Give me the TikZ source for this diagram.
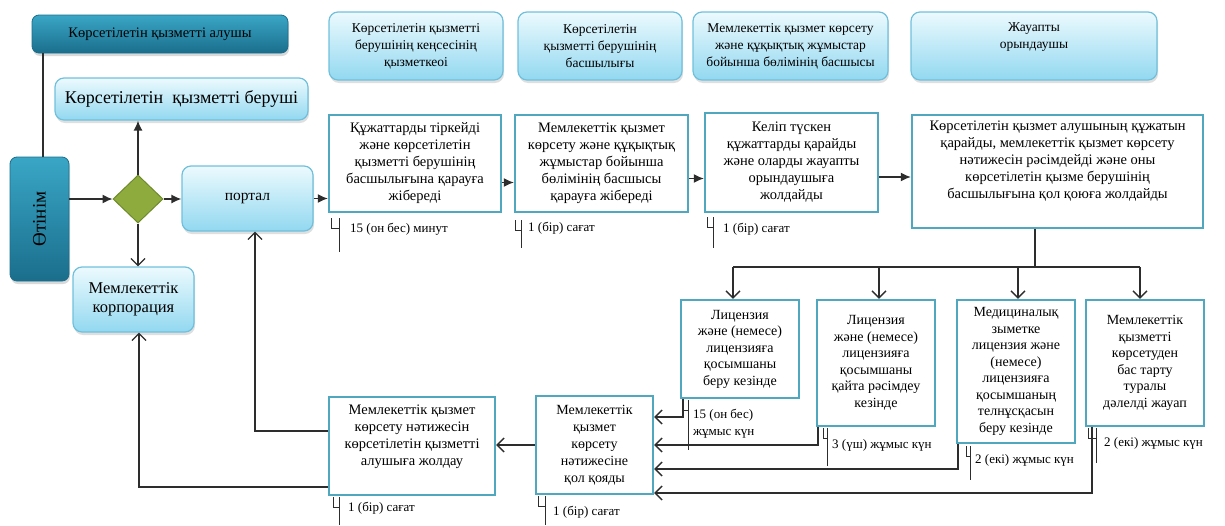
\documentclass[tikz,border=0pt]{standalone}
\usepackage{fontspec}
\setmainfont{Liberation Serif}
\usetikzlibrary{arrows.meta,shapes.geometric,shadows}

\definecolor{tealtop}{RGB}{58,166,198}
\definecolor{tealbot}{RGB}{26,110,140}
\definecolor{skytop}{RGB}{236,250,254}
\definecolor{skybot}{RGB}{146,216,240}
\definecolor{skyline}{RGB}{112,192,220}
\definecolor{boxline}{RGB}{80,168,192}
\definecolor{leaf}{RGB}{142,172,62}
\definecolor{leafline}{RGB}{110,138,42}
\definecolor{wire}{RGB}{45,45,45}

\tikzset{
    lane/.style={rounded corners=7pt, top color=tealtop, bottom color=tealbot, draw=tealbot, line width=0.8pt,
        drop shadow={shadow xshift=1pt, shadow yshift=-3pt, opacity=0.3}, align=center, inner sep=0pt},
    pool/.style={rounded corners=9pt, top color=skytop, bottom color=skybot, draw=skyline, line width=1.2pt,
        drop shadow={shadow xshift=1pt, shadow yshift=-3pt, opacity=0.25}, align=center, inner sep=0pt,
        font=\fontsize{13.5}{17}\selectfont},
    stepbox/.style={draw=boxline, fill=white, line width=2.4pt, align=center, inner sep=0pt,
        font=\fontsize{14.5}{17}\selectfont},
    gate/.style={diamond, fill=leaf, draw=leafline, line width=1pt, minimum width=50pt, minimum height=48pt, inner sep=0pt},
    wireline/.style={wire, line width=1.3pt},
    flow/.style={wireline, -{Latex[length=10pt,width=9pt]}},
    back/.style={wireline, -{Straight Barb[length=7pt,width=14pt]}},
    note/.style={anchor=west, inner sep=0pt, align=left, font=\fontsize{13}{17}\selectfont},
}

\begin{document}
\begin{tikzpicture}[x=1pt, y=-1pt]
    \useasboundingbox (0,0) rectangle (1225,525);

    % lanes and headers
    \node[lane, minimum width=256pt, minimum height=38pt, font=\fontsize{14.5}{17}\selectfont] (alushy) at (160,34) {Көрсетілетін қызметті алушы};
    \node[lane, rotate=90, minimum width=124pt, minimum height=59pt, font=\fontsize{19}{20}\selectfont] (otinim) at (39.5,219) {Өтінім};
    \node[pool, minimum width=253pt, minimum height=42pt, font=\fontsize{18}{20}\selectfont] (berushi) at (181.5,99) {Көрсетілетін\ \ қызметті беруші};
    \node[pool, minimum width=174pt, minimum height=68pt] (kense) at (416,46) {Көрсетілетін қызметті\\берушінің кеңсесінің\\қызметкеоі};
    \node[pool, minimum width=164pt, minimum height=68pt] (basshy) at (600,46) {Көрсетілетін\\қызметті берушінің\\басшылығы};
    \node[pool, minimum width=195pt, minimum height=68pt] (bolim) at (790.5,46) {Мемлекеттік қызмет көрсету\\және құқықтық жұмыстар\\бойынша бөлімінің басшысы};
    \node[pool, minimum width=246pt, minimum height=68pt] (zhauapty) at (1034,46) {Жауапты\\орындаушы\\[4pt]};

    \coordinate (lanefoot) at (43,157);
    \draw[wireline] (alushy.south -| lanefoot) -- (lanefoot);

    % entry
    \node[gate] (gate) at (138,199) {};
    \node[pool, minimum width=131pt, minimum height=65pt, font=\fontsize{15.5}{18}\selectfont] (portal) at (247.5,198.5) {портал};
    \node[pool, minimum width=121pt, minimum height=65pt, font=\fontsize{16.5}{19}\selectfont] (corp) at (133.5,299.5) {Мемлекеттік\\корпорация};

    \draw[flow] (otinim.south |- gate.west) -- (gate.west);
    \draw[flow] (gate.north) -- (gate.north |- berushi.south);
    \draw[flow] (gate.east) -- (gate.east -| portal.west);
    \draw[back] (gate.south) -- (gate.south |- corp.north);

    % steps
    \node[stepbox, minimum width=172pt, minimum height=97pt] (b1) at (415,163.5) {Құжаттарды тіркейді\\және көрсетілетін\\қызметті берушінің\\басшылығына қарауға\\жібереді};
    \node[stepbox, minimum width=173pt, minimum height=97pt] (b2) at (601.5,163.5) {Мемлекеттік қызмет\\көрсету және құқықтық\\жұмыстар бойынша\\бөлімінің басшысы\\қарауға жібереді};
    \node[stepbox, minimum width=173pt, minimum height=99pt] (b3) at (791.5,162.5) {Келіп түскен\\құжаттарды қарайды\\және оларды жауапты\\орындаушыға\\жолдайды};
    \node[stepbox, minimum width=291pt, minimum height=113pt] (b4) at (1057.5,171.5) {Көрсетілетін қызмет алушының құжатын\\қарайды, мемлекеттік қызмет көрсету\\нәтижесін рәсімдейді және оны\\көрсетілетін қызме берушінің\\басшылығына қол қоюға жолдайды\\[6pt]};

    \draw[flow] (portal.east) -- (portal.east -| b1.west);
    \draw[flow] ([yshift=-19pt]b1.east) -- ([yshift=-19pt]b1.east -| b2.west);
    \draw[flow] ([yshift=-15pt]b2.east) -- ([yshift=-15pt]b2.east -| b3.west);
    \draw[flow] ([yshift=-14.5pt]b3.east) -- ([yshift=-14.5pt]b3.east -| b4.west);

    % cases
    \node[stepbox, minimum width=118pt, minimum height=98pt, font=\fontsize{14}{16.5}\selectfont] (b5) at (740,349) {Лицензия\\және (немесе)\\лицензияға\\қосымшаны\\беру кезінде};
    \node[stepbox, minimum width=118pt, minimum height=126pt, font=\fontsize{14}{16.5}\selectfont] (b6) at (876,363) {Лицензия\\және (немесе)\\лицензияға\\қосымшаны\\қайта рәсімдеу\\кезінде};
    \node[stepbox, minimum width=118pt, minimum height=143pt, font=\fontsize{14}{16.5}\selectfont] (b7) at (1016,371.5) {Медициналық\\зыметке\\лицензия және\\(немесе)\\лицензияға\\қосымшаның\\телнұсқасын\\беру кезінде};
    \node[stepbox, minimum width=118pt, minimum height=126pt, font=\fontsize{14}{16.5}\selectfont] (b8) at (1145,363) {Мемлекеттік\\қызметті\\көрсетуден\\бас тарту\\туралы\\дәлелді жауап};

    \coordinate (split) at (1035,267);
    \draw[wireline] (split |- b4.south) -- (split);
    \draw[wireline] ([xshift=-7pt]b5.north |- split) -- ([xshift=-5pt]b8.north |- split);
    \foreach \b/\s in {b5/-7, b6/3, b7/2, b8/-5} {
        \draw[back] ([xshift=\s pt]\b.north |- split) -- ([xshift=\s pt]\b.north);
    }

    % result
    \node[stepbox, minimum width=166pt, minimum height=98pt] (b9) at (412,446) {Мемлекеттік қызмет\\көрсету нәтижесін\\көрсетілетін қызметті\\алушыға жолдау\\[4pt]};
    \node[stepbox, minimum width=117pt, minimum height=98pt, font=\fontsize{14}{17}\selectfont] (b10) at (594.5,445) {Мемлекеттік\\қызмет\\көрсету\\нәтижесіне\\қол қояды};

    \coordinate (k1) at (683,417);
    \coordinate (k2) at (818,445);
    \coordinate (k3) at (958,469);
    \coordinate (k4) at (1092,493);
    \draw[back] (b5.south -| k1) -- (k1) -- (k1 -| b10.east);
    \draw[back] (b6.south -| k2) -- (k2) -- (k2 -| b10.east);
    \draw[back] (b7.south -| k3) -- (k3) -- (k3 -| b10.east);
    \draw[back] (b8.south -| k4) -- (k4) -- (k4 -| b10.east);
    \draw[back] (b10.west) -- (b10.west -| b9.east);

    \coordinate (k5) at (255,431);
    \coordinate (k6) at (139,487);
    \draw[back] (b9.west |- k5) -- (k5) -- (portal.south -| k5);
    \draw[back] (b9.west |- k6) -- (k6) -- (corp.south -| k6);

    % time marks
    \foreach \x/\w/\y/\h in {331/8/218/34, 515/6/220/28, 707/6/217/31, 333/6/497/28, 538/7/496/29,
                             683/5/400/50, 823/4/428/38, 966/4/446/34, 1088/8/428/35} {
        \draw[wire, line width=1pt] (\x,\y) -- (\x,\y+10) -- (\x+\w,\y+10) (\x+\w,\y) -- (\x+\w,\y+\h);
    }
    \node[note] (t1) at (350,229) {15 (он бес) минут};
    \node[note] (t2) at (528,228) {1 (бір) сағат};
    \node[note] (t3) at (723,229) {1 (бір) сағат};
    \node[note] (t4) at (693,424) {15 (он бес)\\жұмыс күн};
    \node[note] (t5) at (832,445) {3 (үш) жұмыс күн};
    \node[note] (t6) at (975,460) {2 (екі) жұмыс күн};
    \node[note] (t7) at (1104,443) {2 (екі) жұмыс күн};
    \node[note] (t8) at (348,508) {1 (бір) сағат};
    \node[note] (t9) at (553,512) {1 (бір) сағат};
\end{tikzpicture}
\end{document}
